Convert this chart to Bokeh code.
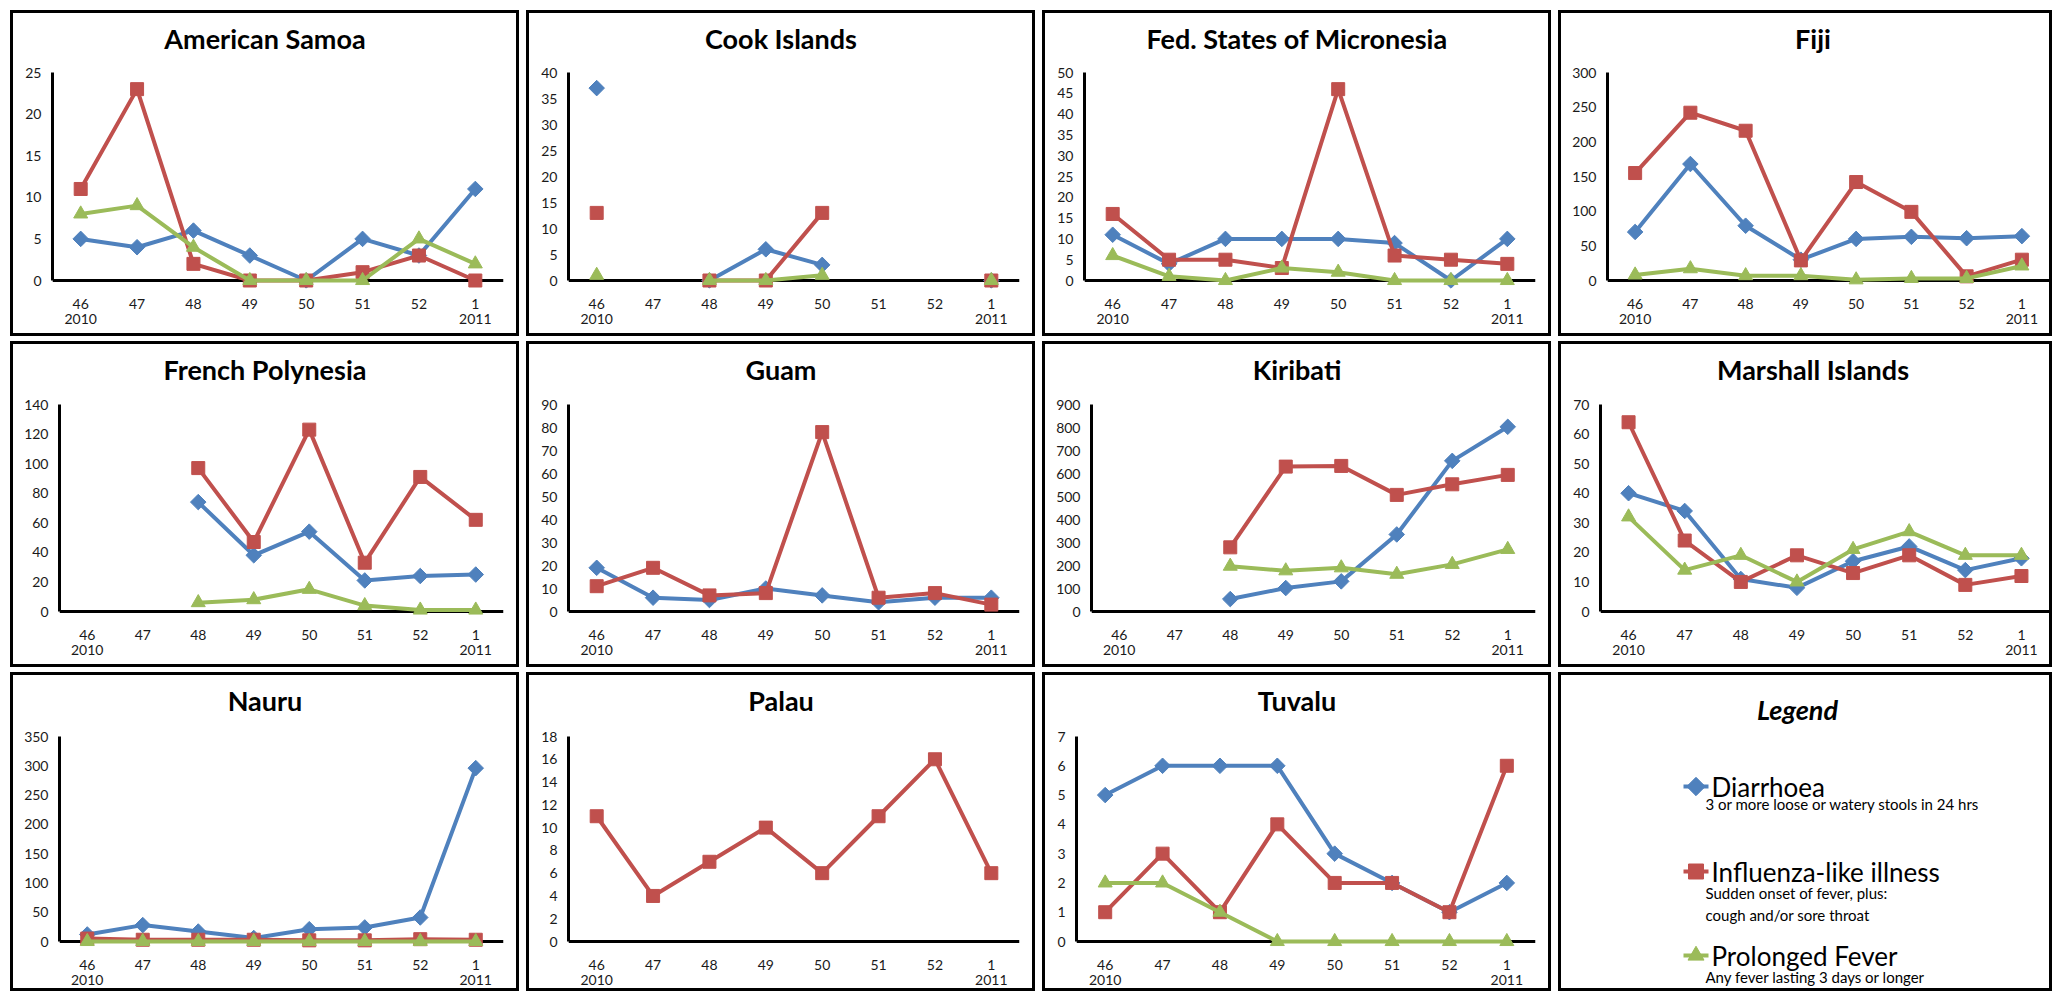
import numpy as np
from bokeh.plotting import figure
from bokeh.layouts import row, column
from bokeh.models import Range1d, FixedTicker, Span, ColumnDataSource, LinearAxis
from bokeh.core.properties import value
from bokeh.embed import file_html
from bokeh.resources import INLINE

nan = float("nan")

# ---------------- data ----------------
weeks = ["46", "47", "48", "49", "50", "51", "52", "1"]
week_years = ["2010", "", "", "", "", "", "", "2011"]

countries = ["American Samoa", "Cook Islands", "Fed. States of Micronesia", "Fiji",
             "French Polynesia", "Guam", "Kiribati", "Marshall Islands",
             "Nauru", "Palau", "Tuvalu"]
y_max = [25, 40, 50, 300, 140, 90, 900, 70, 350, 18, 7]
y_step = [5, 5, 5, 50, 20, 10, 100, 10, 50, 2, 1]

american_samoa_diarrhoea = [5, 4, 6, 3, 0, 5, 3, 11]
american_samoa_ili = [11, 23, 2, 0, 0, 1, 3, 0]
american_samoa_fever = [8, 9, 4, 0, 0, 0, 5, 2]

cook_islands_diarrhoea = [37, nan, 0, 6, 3, nan, nan, 0]
cook_islands_ili = [13, nan, 0, 0, 13, nan, nan, 0]
cook_islands_fever = [1, nan, 0, 0, 1, nan, nan, 0]

micronesia_diarrhoea = [11, 4, 10, 10, 10, 9, 0, 10]
micronesia_ili = [16, 5, 5, 3, 46, 6, 5, 4]
micronesia_fever = [6, 1, 0, 3, 2, 0, 0, 0]

fiji_diarrhoea = [70, 168, 79, 30, 60, 63, 61, 64]
fiji_ili = [155, 242, 216, 29, 142, 99, 6, 30]
fiji_fever = [8, 17, 7, 7, 1, 3, 3, 21]

french_polynesia_diarrhoea = [nan, nan, 74, 38, 54, 21, 24, 25]
french_polynesia_ili = [nan, nan, 97, 47, 123, 33, 91, 62]
french_polynesia_fever = [nan, nan, 6, 8, 15, 4, 1, 1]

guam_diarrhoea = [19, 6, 5, 10, 7, 4, 6, 6]
guam_ili = [11, 19, 7, 8, 78, 6, 8, 3]
guam_fever = [nan, nan, nan, nan, nan, nan, nan, nan]

kiribati_diarrhoea = [nan, nan, 54, 102, 131, 335, 655, 803]
kiribati_ili = [nan, nan, 279, 630, 633, 507, 553, 594]
kiribati_fever = [nan, nan, 197, 177, 190, 162, 205, 270]

marshall_islands_diarrhoea = [40, 34, 11, 8, 17, 22, 14, 18]
marshall_islands_ili = [64, 24, 10, 19, 13, 19, 9, 12]
marshall_islands_fever = [32, 14, 19, 10, 21, 27, 19, 19]

nauru_diarrhoea = [12, 28, 17, 6, 21, 24, 41, 296]
nauru_ili = [5, 3, 3, 3, 2, 2, 4, 3]
nauru_fever = [0, 0, 0, 0, 0, 0, 0, 0]

palau_diarrhoea = [nan, nan, nan, nan, nan, nan, nan, nan]
palau_ili = [11, 4, 7, 10, 6, 11, 16, 6]
palau_fever = [nan, nan, nan, nan, nan, nan, nan, nan]

tuvalu_diarrhoea = [5, 6, 6, 6, 3, 2, 1, 2]
tuvalu_ili = [1, 3, 1, 4, 2, 2, 1, 6]
tuvalu_fever = [2, 2, 1, 0, 0, 0, 0, 0]

diarrhoea_series = [american_samoa_diarrhoea, cook_islands_diarrhoea, micronesia_diarrhoea,
                    fiji_diarrhoea, french_polynesia_diarrhoea, guam_diarrhoea,
                    kiribati_diarrhoea, marshall_islands_diarrhoea, nauru_diarrhoea,
                    palau_diarrhoea, tuvalu_diarrhoea]
ili_series = [american_samoa_ili, cook_islands_ili, micronesia_ili, fiji_ili,
              french_polynesia_ili, guam_ili, kiribati_ili, marshall_islands_ili,
              nauru_ili, palau_ili, tuvalu_ili]
fever_series = [american_samoa_fever, cook_islands_fever, micronesia_fever, fiji_fever,
                french_polynesia_fever, guam_fever, kiribati_fever, marshall_islands_fever,
                nauru_fever, palau_fever, tuvalu_fever]

series_names = ["Diarrhoea", "Influenza-like illness", "Prolonged Fever"]
series_notes = [["3 or more loose or watery stools in 24 hrs"],
                ["Sudden onset of fever, plus:", "cough and/or sore throat"],
                ["Any fever lasting 3 days or longer"]]
legend_title = "Legend"

# ---------------- styles (positions measured from each panel's outer edge) ----------------
FONT = "Lato"
COLORS = ["#4F81BD", "#C0504D", "#9BBB59"]
MARKERS = ["square", "square", "triangle"]
ANGLES = [np.pi / 4, 0.0, 0.0]
SIZES = [11, 13, 14]
LINE_W = 4
BORDER = 3
COL_W = [509, 509, 509, 494]
ROW_H = [326, 326, 319]
COL_GAP = 7
ROW_GAP = 5
PAGE_MARGIN = 10
LEFT_BY_DIGITS = {1: 34, 2: 42, 3: 49}
RIGHT = [16, 16, 16, 3]
FRAME_TOP = 6          # plot frame starts just below the border (title lives inside it)
TOP = [62, 63, 64]     # pixel row of the y-axis maximum
DATA_PX = [208, 207, 205]
PAD_PX = 8
TITLE_CX = 254.5
TITLE_CY = 28
TICK_FONT_SIZE = "14px"

xs = np.arange(1, len(weeks) + 1, dtype=float)


def base_style(p):
    # the canvas keeps the full outer size and starts inside the border,
    # so its last pixels on the right/bottom fall under the border
    p.styles = {"border": f"{BORDER}px solid black", "box-sizing": "border-box"}
    try:
        p.frame_align = False
    except Exception:
        pass
    p.xgrid.visible = False
    p.ygrid.visible = False
    p.outline_line_color = None
    p.background_fill_color = "white"
    p.border_fill_color = "white"


def style_x_axis(ax, labels, standoff):
    ax.ticker = FixedTicker(ticks=list(xs))
    ax.major_label_overrides = {k + 1: lab for k, lab in enumerate(labels)}
    ax.axis_line_color = None
    ax.major_tick_line_color = None
    ax.minor_tick_line_color = None
    ax.major_tick_out = 0
    ax.major_tick_in = 0
    ax.major_label_standoff = standoff
    ax.major_label_text_font = FONT
    ax.major_label_text_font_size = TICK_FONT_SIZE
    ax.major_label_text_color = "#1a1a1a"


def make_panel(i, col, rw):
    w = COL_W[col]
    h = ROW_H[rw]
    ymax, step = y_max[i], y_step[i]
    data_px = DATA_PX[rw]
    per_px = ymax / data_px
    pad = PAD_PX * per_px
    extra = (TOP[rw] - FRAME_TOP) * per_px
    left_o = LEFT_BY_DIGITS[len(str(ymax))]
    right_o = RIGHT[col]
    frame_bottom = TOP[rw] - BORDER + data_px + PAD_PX
    p = figure(width=w, height=h, output_backend="svg", toolbar_location=None,
               title=None,
               x_range=Range1d(0.5, len(weeks) + 0.5),
               y_range=Range1d(-pad, ymax + extra),
               min_border_left=left_o - BORDER, min_border_right=right_o + BORDER,
               min_border_top=FRAME_TOP - BORDER,
               min_border_bottom=h - frame_bottom)
    base_style(p)

    # panel title, placed in pixel terms inside the (taller) frame
    n = len(weeks)
    title_x = 0.5 + n * (TITLE_CX - left_o) / (w - right_o - left_o)
    title_y = ymax + (TOP[rw] - TITLE_CY) * per_px
    p.text(x=[title_x], y=[title_y], text=[countries[i]], text_font=value(FONT),
           text_font_size="27px", text_font_style="bold", text_color="black",
           text_align="center", text_baseline="middle")

    ya = p.yaxis[0]
    ya.ticker = FixedTicker(ticks=list(range(0, ymax + step, step)))
    ya.bounds = (0, ymax)
    ya.axis_line_width = 3
    ya.axis_line_color = "black"
    ya.major_tick_line_color = None
    ya.minor_tick_line_color = None
    ya.major_tick_out = 0
    ya.major_tick_in = 0
    ya.major_label_standoff = 11
    ya.major_label_text_font = FONT
    ya.major_label_text_font_size = TICK_FONT_SIZE
    ya.major_label_text_color = "#1a1a1a"

    style_x_axis(p.xaxis[0], weeks, 10)
    year_axis = LinearAxis()
    style_x_axis(year_axis, week_years, 2)
    p.add_layout(year_axis, "below")

    p.add_layout(Span(location=0, dimension="width", line_color="black",
                      line_width=3, level="underlay"))

    for s, series in enumerate([diarrhoea_series, ili_series, fever_series]):
        vals = np.array(series[i], dtype=float)
        if np.all(np.isnan(vals)):
            continue
        src = ColumnDataSource(dict(x=xs, y=vals))
        p.line("x", "y", source=src, line_color=COLORS[s], line_width=LINE_W)
        p.scatter("x", "y", source=src, marker=MARKERS[s], size=SIZES[s],
                  angle=ANGLES[s], fill_color=COLORS[s], line_color=COLORS[s])
    return p


def make_legend(col, rw):
    w = COL_W[col]
    h = ROW_H[rw]
    # data units = pixels measured from the panel's outer top-left corner
    p = figure(width=w, height=h, output_backend="svg",
               toolbar_location=None, title=None,
               x_range=Range1d(BORDER, w + BORDER), y_range=Range1d(h + BORDER, BORDER),
               x_axis_type=None, y_axis_type=None, min_border=0)
    base_style(p)
    p.text(x=[239], y=[37], text=[legend_title], text_font=value(FONT),
           text_font_size="27px", text_font_style="bold italic", text_color="black",
           text_align="center", text_baseline="middle")
    marker_y = [114, 199, 283]
    note_y = [131, 220, 304]
    mx0, mx1 = 125, 150
    for s in range(3):
        my = marker_y[s]
        p.line([mx0, mx1], [my, my], line_color=COLORS[s], line_width=LINE_W)
        p.scatter([(mx0 + mx1) / 2], [my], marker=MARKERS[s], size=SIZES[s] + 2,
                  angle=ANGLES[s], fill_color=COLORS[s], line_color=COLORS[s])
        p.text(x=[153], y=[my], text=[series_names[s]], text_font=value(FONT),
               text_font_size="26px", text_color="black", text_baseline="middle")
        ny = note_y[s]
        for line_txt in series_notes[s]:
            p.text(x=[147], y=[ny], text=[line_txt], text_font=value(FONT),
                   text_font_size="15px", text_color="black", text_baseline="middle")
            ny += 22
    return p


rows = []
idx = 0
for rw in range(3):
    figs = []
    for col in range(4):
        if idx < len(countries):
            figs.append(make_panel(idx, col, rw))
            idx += 1
        else:
            figs.append(make_legend(col, rw))
    rows.append(row(*figs, spacing=COL_GAP))

layout = column(*rows, spacing=ROW_GAP, margin=(PAGE_MARGIN, 0, 0, PAGE_MARGIN))

open("out.html", "w").write(file_html(layout, INLINE))
